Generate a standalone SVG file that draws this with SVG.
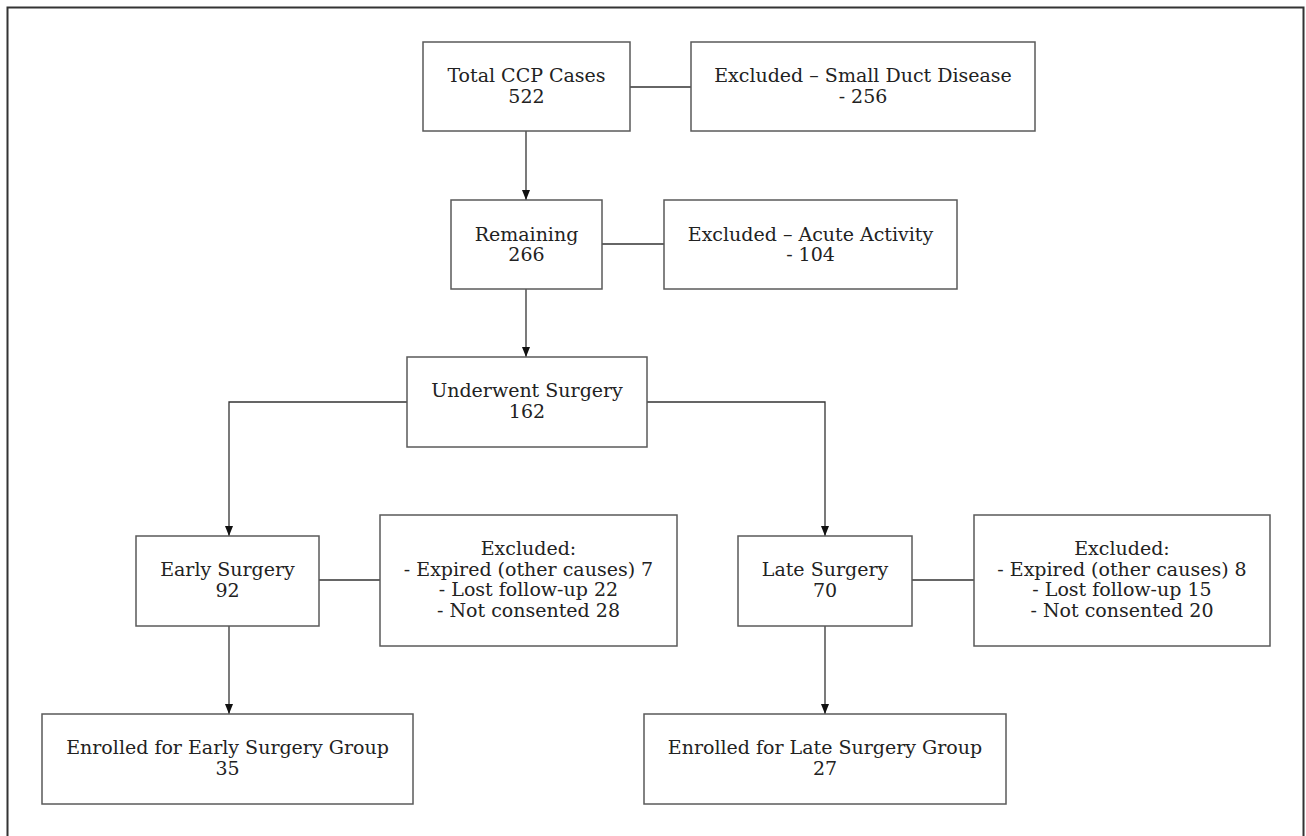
<svg xmlns="http://www.w3.org/2000/svg" width="1306" height="836" viewBox="0 0 1306 836">
<defs>
<marker id="arr" viewBox="0 0 10 10" refX="10" refY="5" markerWidth="10" markerHeight="12" markerUnits="userSpaceOnUse" orient="auto">
<path d="M0,1 L10,5 L0,9 z" fill="#111"/>
</marker>
<style>
.box{fill:#fff;stroke:#5a5a5a;stroke-width:1.5}
.t{font-family:"DejaVu Serif","Liberation Serif",serif;font-size:19px;fill:#222;text-anchor:middle}
.c{fill:none;stroke:#333;stroke-width:1.3}
</style>
</defs>
<rect x="0" y="0" width="1306" height="836" fill="#fff"/>
<rect x="7.5" y="7.5" width="1296" height="840" fill="none" stroke="#333" stroke-width="2"/>
<g id="connectors">
<line class="c" x1="630" y1="87" x2="691" y2="87"/>
<line class="c" x1="526" y1="131" x2="526" y2="200" marker-end="url(#arr)"/>
<line class="c" x1="601" y1="244" x2="664" y2="244"/>
<line class="c" x1="526" y1="289" x2="526" y2="357" marker-end="url(#arr)"/>
<polyline class="c" points="407,402 229,402 229,536" marker-end="url(#arr)"/>
<polyline class="c" points="647,402 825,402 825,536" marker-end="url(#arr)"/>
<line class="c" x1="319" y1="580" x2="380" y2="580"/>
<line class="c" x1="912" y1="580" x2="974" y2="580"/>
<line class="c" x1="229" y1="626" x2="229" y2="714" marker-end="url(#arr)"/>
<line class="c" x1="825" y1="626" x2="825" y2="714" marker-end="url(#arr)"/>
</g>
<g id="total">
<rect class="box" x="423" y="42" width="207" height="89"/>
<text class="t" x="526.5" y="82">Total CCP Cases</text>
<text class="t" x="526.5" y="103">522</text>
</g>
<g id="excl-small-duct">
<rect class="box" x="691" y="42" width="344" height="89"/>
<text class="t" x="863" y="82">Excluded – Small Duct Disease</text>
<text class="t" x="863" y="103">- 256</text>
</g>
<g id="remaining">
<rect class="box" x="451" y="200" width="151" height="89"/>
<text class="t" x="526.5" y="240.5">Remaining</text>
<text class="t" x="526.5" y="261">266</text>
</g>
<g id="excl-acute">
<rect class="box" x="664" y="200" width="293" height="89"/>
<text class="t" x="810.5" y="240.5">Excluded – Acute Activity</text>
<text class="t" x="810.5" y="261">- 104</text>
</g>
<g id="surgery">
<rect class="box" x="407" y="357" width="240" height="90"/>
<text class="t" x="527" y="397">Underwent Surgery</text>
<text class="t" x="527" y="418">162</text>
</g>
<g id="early">
<rect class="box" x="136" y="536" width="183" height="90"/>
<text class="t" x="227.5" y="575.5">Early Surgery</text>
<text class="t" x="227.5" y="596.5">92</text>
</g>
<g id="excl-early">
<rect class="box" x="380" y="515" width="297" height="131"/>
<text class="t" x="528.5" y="555">Excluded:</text>
<text class="t" x="528.5" y="575.5">- Expired (other causes) 7</text>
<text class="t" x="528.5" y="596">- Lost follow-up 22</text>
<text class="t" x="528.5" y="616.5">- Not consented 28</text>
</g>
<g id="late">
<rect class="box" x="738" y="536" width="174" height="90"/>
<text class="t" x="825" y="575.5">Late Surgery</text>
<text class="t" x="825" y="596.5">70</text>
</g>
<g id="excl-late">
<rect class="box" x="974" y="515" width="296" height="131"/>
<text class="t" x="1122" y="555">Excluded:</text>
<text class="t" x="1122" y="575.5">- Expired (other causes) 8</text>
<text class="t" x="1122" y="596">- Lost follow-up 15</text>
<text class="t" x="1122" y="616.5">- Not consented 20</text>
</g>
<g id="enrolled-early">
<rect class="box" x="42" y="714" width="371" height="90"/>
<text class="t" x="227.5" y="754">Enrolled for Early Surgery Group</text>
<text class="t" x="227.5" y="775">35</text>
</g>
<g id="enrolled-late">
<rect class="box" x="644" y="714" width="362" height="90"/>
<text class="t" x="825" y="754">Enrolled for Late Surgery Group</text>
<text class="t" x="825" y="775">27</text>
</g>
</svg>
